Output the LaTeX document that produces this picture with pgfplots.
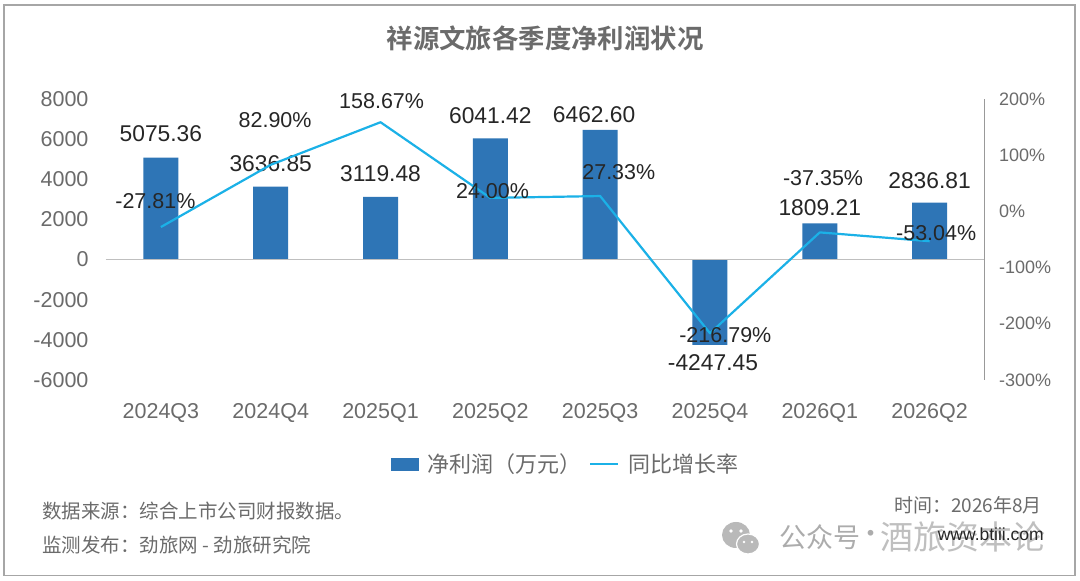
\documentclass[border=0pt]{standalone}
\usepackage{pgfplots}
\pgfplotsset{compat=1.18}
\usepackage{fontspec}
\setmainfont{Liberation Sans}
\newfontfamily\cjk{Noto Sans CJK SC}
\newfontfamily\cjkb{Noto Sans CJK SC Bold}
\definecolor{barblue}{HTML}{2E75B6}
\definecolor{lineblue}{HTML}{1BB1E7}
\definecolor{tickgray}{HTML}{6B6B6B}
\definecolor{txt}{HTML}{262626}
\definecolor{framegray}{HTML}{A6A6A6}

\pgfplotstableread{
x  profit
0  5075.36
1  3636.85
2  3119.48
3  6041.42
4  6462.60
5  -4247.45
6  1809.21
7  2836.81
}\profit
\pgfplotstableread{
x  rate
0  -27.81
1  82.90
2  158.67
3  24.00
4  27.33
5  -216.79
6  -37.35
7  -53.04
}\rate

\begin{document}
\begin{tikzpicture}[lab/.style={font=\fontsize{21.5}{24}\selectfont,text=txt,inner sep=0pt,anchor=center},
  val/.style={lab,font=\fontsize{22.8}{24}\selectfont}]
\begin{scope}[x=1pt,y=1pt]
\fill[white] (0,0) rectangle (1080,581);
\draw[framegray,line width=1.6pt] (4,5.5) rectangle (1075,576);
% title and notes, y counted up from the bottom of the page
\node[text=tickgray,font=\cjkb\fontsize{26.4}{30}\selectfont] at (545,543) {祥源文旅各季度净利润状况};
% watermark sits under the site line
\fill[gray!55] (736,46) ellipse (14 and 13);
\fill[gray!55,draw=white,line width=1.2pt] (748,37) ellipse (11.5 and 10);
\fill[white] (731,50) circle (1.8);
\fill[white] (741,50) circle (1.8);
\fill[white] (744,39) circle (1.4);
\fill[white] (752,39) circle (1.4);
\node[anchor=west,inner sep=0pt,text=gray!65,font=\cjk\fontsize{27}{30}\selectfont] at (779,44) {公众号};
\node[anchor=center,inner sep=0pt,text=gray!65,font=\cjk\fontsize{27}{30}\selectfont] at (871,44) {·};
\node[anchor=west,inner sep=0pt,text=gray!50,font=\cjk\fontsize{33}{36}\selectfont] at (880,44) {酒旅资本论};
\node[anchor=west,inner sep=0pt,text=tickgray,font=\cjk\fontsize{19.5}{22}\selectfont] at (42,70) {数据来源：综合上市公司财报数据。};
\node[anchor=west,inner sep=0pt,text=tickgray,font=\cjk\fontsize{19.5}{22}\selectfont] at (42,36) {监测发布：劲旅网 - 劲旅研究院};
\node[anchor=east,inner sep=0pt,text=tickgray,font=\cjk\fontsize{19}{22}\selectfont] at (1042,76) {时间：2026年8月};
\node[anchor=east,inner sep=0pt,text=txt,font=\fontsize{17.5}{20}\selectfont] at (1044,47) {www.btiii.com};
\end{scope}

\begin{axis}[
  at={(106pt,201pt)},anchor=south west,
  scale only axis,width=878.5pt,height=281pt,
  xmin=-0.5,xmax=7.5,ymin=-6000,ymax=8000,
  axis y line*=left,axis x line*=bottom,
  y axis line style={draw=none},x axis line style={draw=none},
  xtick={0,...,7},
  xticklabels={2024Q3,2024Q4,2025Q1,2025Q2,2025Q3,2025Q4,2026Q1,2026Q2},
  ytick={-6000,-4000,...,8000},
  major tick length=0pt,
  /pgf/number format/assume math mode=true,
  /pgf/number format/1000 sep={},
  ticklabel style={text=tickgray,font=\fontsize{21.5}{24}\selectfont},
  yticklabel style={xshift=-14pt},
  xticklabel style={yshift=-20pt},
  clip=false]
\addplot[ybar,bar width=35pt,fill=barblue,draw=none] table[x=x,y=profit]{\profit};
\draw[gray!50,line width=1pt] (axis cs:-0.5,0) -- (axis cs:7.5,0);
\node[val] at (axis cs:0,5075.36) [yshift=24pt] {5075.36};
\node[val] at (axis cs:1,3636.85) [yshift=23pt] {3636.85};
\node[val] at (axis cs:2,3119.48) [yshift=23pt] {3119.48};
\node[val] at (axis cs:3,6041.42) [yshift=23pt] {6041.42};
\node[val,xshift=-6pt] at (axis cs:4,6462.60) [yshift=15pt] {6462.60};
\node[val,xshift=3pt] at (axis cs:5,-4247.45) [yshift=-18pt] {-4247.45};
\node[val] at (axis cs:6,1809.21) [yshift=16pt] {1809.21};
\node[val] at (axis cs:7,2836.81) [yshift=22pt] {2836.81};
\end{axis}

\begin{axis}[
  at={(106pt,201pt)},anchor=south west,
  scale only axis,width=878.5pt,height=281pt,
  xmin=-0.5,xmax=7.5,ymin=-300,ymax=200,
  axis y line*=right,axis x line=none,
  y axis line style={draw=gray!80,line width=1pt},
  ytick={-300,-200,...,200},
  major tick length=0pt,
  /pgf/number format/assume math mode=true,
  yticklabel={\pgfmathprintnumber{\tick}\%},
  yticklabel style={text=tickgray,font=\fontsize{18}{22}\selectfont,anchor=west,xshift=11pt},
  legend style={at={(0.523,-0.255)},anchor=north,draw=none,fill=none,legend columns=-1,
    font=\cjk\fontsize{22}{24}\selectfont,text=tickgray,inner sep=0pt,
    /tikz/every even column/.append style={column sep=6pt},
    /tikz/every odd column/.append style={column sep=7pt}},
  legend cell align=left,
  clip=false]
\addlegendimage{legend image code/.code={\fill[barblue] (0pt,-6pt) rectangle (27pt,6pt);}}
\addlegendentry{净利润（万元）}
\addplot[lineblue,line width=2.2pt,line join=round,
  legend image code/.code={\draw[lineblue,line width=2.2pt] (0pt,0pt) -- (28pt,0pt);}]
  table[x=x,y=rate]{\rate};
\addlegendentry{同比增长率}
\node[lab] at (axis cs:-0.05,-27.81) [yshift=26pt] {-27.81\%};
\node[lab] at (axis cs:1.04,82.90) [yshift=45pt] {82.90\%};
\node[lab] at (axis cs:2.01,158.67) [yshift=21pt] {158.67\%};
\node[lab] at (axis cs:3.02,24.00) [yshift=7pt] {24.00\%};
\node[lab] at (axis cs:4.17,27.33) [yshift=24pt] {27.33\%};
\node[lab] at (axis cs:5.14,-216.79) [yshift=-2pt] {-216.79\%};
\node[lab] at (axis cs:6.03,-37.35) [yshift=54pt] {-37.35\%};
\node[lab] at (axis cs:7.06,-53.04) [yshift=8pt] {-53.04\%};
\end{axis}
\end{tikzpicture}
\end{document}
